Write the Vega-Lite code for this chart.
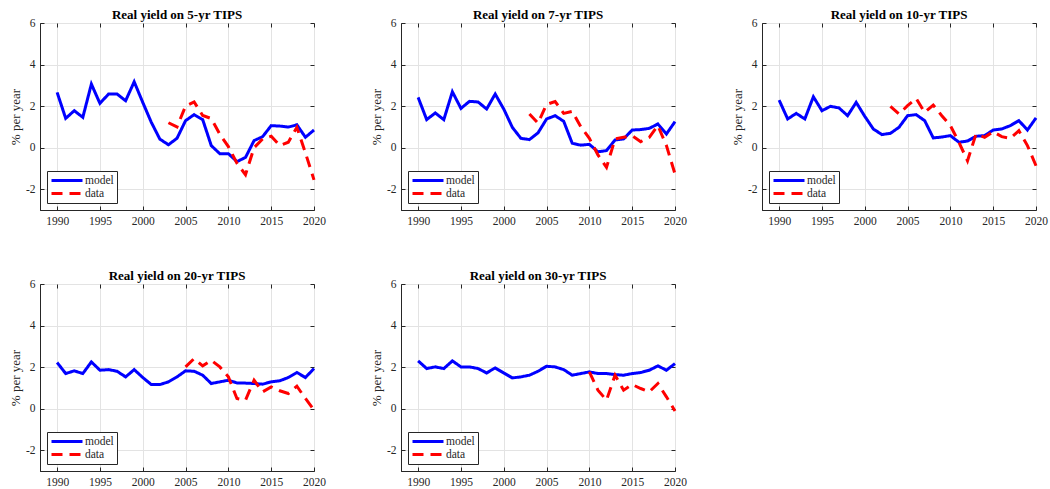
{
  "$schema": "https://vega.github.io/schema/vega-lite/v6.json",
  "background": "white",
  "padding": {"left": 8, "top": 8, "right": 5, "bottom": 5},
  "datasets": {
    "d": [
      {"p":5,"x":1990,"model":2.66},{"p":5,"x":1991,"model":1.41},{"p":5,"x":1992,"model":1.78},{"p":5,"x":1993,"model":1.46},{"p":5,"x":1994,"model":3.06},{"p":5,"x":1995,"model":2.13},{"p":5,"x":1996,"model":2.58},{"p":5,"x":1997,"model":2.58},{"p":5,"x":1998,"model":2.26},{"p":5,"x":1999,"model":3.17},{"p":5,"x":2000,"model":2.18},{"p":5,"x":2001,"model":1.22},{"p":5,"x":2002,"model":0.41},{"p":5,"x":2003,"model":0.14,"data":1.2},{"p":5,"x":2004,"model":0.45,"data":1.0},{"p":5,"x":2005,"model":1.30,"data":2.0},{"p":5,"x":2006,"model":1.59,"data":2.2},{"p":5,"x":2007,"model":1.35,"data":1.55},{"p":5,"x":2008,"model":0.10,"data":1.4},{"p":5,"x":2009,"model":-0.29,"data":0.65},{"p":5,"x":2010,"model":-0.29,"data":0.05},{"p":5,"x":2011,"model":-0.67,"data":-0.75},{"p":5,"x":2012,"model":-0.47,"data":-1.3},{"p":5,"x":2013,"model":0.34,"data":0.0},{"p":5,"x":2014,"model":0.53,"data":0.42},{"p":5,"x":2015,"model":1.06,"data":0.55},{"p":5,"x":2016,"model":1.04,"data":0.1},{"p":5,"x":2017,"model":0.99,"data":0.26},{"p":5,"x":2018,"model":1.10,"data":0.98},{"p":5,"x":2019,"model":0.50,"data":-0.25},{"p":5,"x":2020,"model":0.85,"data":-1.55},
      {"p":7,"x":1990,"model":2.42},{"p":7,"x":1991,"model":1.35},{"p":7,"x":1992,"model":1.67},{"p":7,"x":1993,"model":1.35},{"p":7,"x":1994,"model":2.69},{"p":7,"x":1995,"model":1.89},{"p":7,"x":1996,"model":2.23},{"p":7,"x":1997,"model":2.2},{"p":7,"x":1998,"model":1.86},{"p":7,"x":1999,"model":2.58},{"p":7,"x":2000,"model":1.86},{"p":7,"x":2001,"model":0.98},{"p":7,"x":2002,"model":0.45},{"p":7,"x":2003,"model":0.39,"data":1.62},{"p":7,"x":2004,"model":0.71,"data":1.18},{"p":7,"x":2005,"model":1.38,"data":2.08},{"p":7,"x":2006,"model":1.54,"data":2.22},{"p":7,"x":2007,"model":1.27,"data":1.65},{"p":7,"x":2008,"model":0.21,"data":1.75},{"p":7,"x":2009,"model":0.12,"data":1.0},{"p":7,"x":2010,"model":0.16,"data":0.45},{"p":7,"x":2011,"model":-0.2,"data":-0.35},{"p":7,"x":2012,"model":-0.14,"data":-0.95},{"p":7,"x":2013,"model":0.37,"data":0.42},{"p":7,"x":2014,"model":0.42,"data":0.5},{"p":7,"x":2015,"model":0.85,"data":0.58},{"p":7,"x":2016,"model":0.87,"data":0.29},{"p":7,"x":2017,"model":0.93,"data":0.5},{"p":7,"x":2018,"model":1.14,"data":1.06},{"p":7,"x":2019,"model":0.66,"data":0.1},{"p":7,"x":2020,"model":1.25,"data":-1.27},
      {"p":10,"x":1990,"model":2.29},{"p":10,"x":1991,"model":1.38},{"p":10,"x":1992,"model":1.65},{"p":10,"x":1993,"model":1.38},{"p":10,"x":1994,"model":2.45},{"p":10,"x":1995,"model":1.78},{"p":10,"x":1996,"model":1.99},{"p":10,"x":1997,"model":1.91},{"p":10,"x":1998,"model":1.54},{"p":10,"x":1999,"model":2.18},{"p":10,"x":2000,"model":1.51},{"p":10,"x":2001,"model":0.9},{"p":10,"x":2002,"model":0.63},{"p":10,"x":2003,"model":0.69,"data":1.99},{"p":10,"x":2004,"model":0.98,"data":1.62},{"p":10,"x":2005,"model":1.54,"data":2.02},{"p":10,"x":2006,"model":1.59,"data":2.37},{"p":10,"x":2007,"model":1.3,"data":1.7},{"p":10,"x":2008,"model":0.47,"data":2.05},{"p":10,"x":2009,"model":0.51,"data":1.54},{"p":10,"x":2010,"model":0.58,"data":1.06},{"p":10,"x":2011,"model":0.26,"data":0.26},{"p":10,"x":2012,"model":0.32,"data":-0.63},{"p":10,"x":2013,"model":0.55,"data":0.66},{"p":10,"x":2014,"model":0.58,"data":0.5},{"p":10,"x":2015,"model":0.85,"data":0.77},{"p":10,"x":2016,"model":0.9,"data":0.53},{"p":10,"x":2017,"model":1.06,"data":0.45},{"p":10,"x":2018,"model":1.3,"data":0.82},{"p":10,"x":2019,"model":0.85,"data":0.1},{"p":10,"x":2020,"model":1.43,"data":-0.87},
      {"p":20,"x":1990,"model":2.22},{"p":20,"x":1991,"model":1.69},{"p":20,"x":1992,"model":1.82},{"p":20,"x":1993,"model":1.69},{"p":20,"x":1994,"model":2.25},{"p":20,"x":1995,"model":1.85},{"p":20,"x":1996,"model":1.88},{"p":20,"x":1997,"model":1.8},{"p":20,"x":1998,"model":1.53},{"p":20,"x":1999,"model":1.88},{"p":20,"x":2000,"model":1.5},{"p":20,"x":2001,"model":1.16},{"p":20,"x":2002,"model":1.16},{"p":20,"x":2003,"model":1.29},{"p":20,"x":2004,"model":1.53},{"p":20,"x":2005,"model":1.82,"data":2.01},{"p":20,"x":2006,"model":1.8,"data":2.41},{"p":20,"x":2007,"model":1.61,"data":2.06},{"p":20,"x":2008,"model":1.21,"data":2.33},{"p":20,"x":2009,"model":1.29,"data":2.01},{"p":20,"x":2010,"model":1.37,"data":1.53},{"p":20,"x":2011,"model":1.24,"data":0.49},{"p":20,"x":2012,"model":1.23,"data":0.41},{"p":20,"x":2013,"model":1.21,"data":1.37},{"p":20,"x":2014,"model":1.18,"data":0.81},{"p":20,"x":2015,"model":1.29,"data":1.05},{"p":20,"x":2016,"model":1.34,"data":0.86},{"p":20,"x":2017,"model":1.5,"data":0.73},{"p":20,"x":2018,"model":1.74,"data":1.08},{"p":20,"x":2019,"model":1.5,"data":0.49},{"p":20,"x":2020,"model":1.93,"data":-0.06},
      {"p":30,"x":1990,"model":2.3},{"p":30,"x":1991,"model":1.93},{"p":30,"x":1992,"model":2.01},{"p":30,"x":1993,"model":1.93},{"p":30,"x":1994,"model":2.3},{"p":30,"x":1995,"model":2.01},{"p":30,"x":1996,"model":2.01},{"p":30,"x":1997,"model":1.93},{"p":30,"x":1998,"model":1.72},{"p":30,"x":1999,"model":1.96},{"p":30,"x":2000,"model":1.72},{"p":30,"x":2001,"model":1.48},{"p":30,"x":2002,"model":1.53},{"p":30,"x":2003,"model":1.61},{"p":30,"x":2004,"model":1.8},{"p":30,"x":2005,"model":2.04},{"p":30,"x":2006,"model":2.01},{"p":30,"x":2007,"model":1.88},{"p":30,"x":2008,"model":1.61},{"p":30,"x":2009,"model":1.69},{"p":30,"x":2010,"model":1.77,"data":1.77},{"p":30,"x":2011,"model":1.69,"data":0.89},{"p":30,"x":2012,"model":1.69,"data":0.41},{"p":30,"x":2013,"model":1.64,"data":1.61},{"p":30,"x":2014,"model":1.61,"data":0.89},{"p":30,"x":2015,"model":1.69,"data":1.16},{"p":30,"x":2016,"model":1.74,"data":0.97},{"p":30,"x":2017,"model":1.85,"data":0.81},{"p":30,"x":2018,"model":2.06,"data":1.21},{"p":30,"x":2019,"model":1.85,"data":0.57},{"p":30,"x":2020,"model":2.17,"data":-0.11}
    ]
  },
  "data": {"name": "d"},
  "columns": 3,
  "bounds": "flush",
  "spacing": {"row": 74, "column": 87},
  "resolve": {"scale": {"color": "independent", "strokeDash": "independent"}, "legend": {"color": "independent", "strokeDash": "independent"}},
  "concat": [
    {
      "title": "Real yield on 5-yr TIPS",
      "width": 274, "height": 187,
      "transform": [{"filter": "datum.p == 5"}, {"fold": ["model", "data"], "as": ["s", "v"]}, {"filter": "isValid(datum.v)"}],
      "layer": [
        {"mark": {"type": "line", "strokeWidth": 3},
         "encoding": {
           "x": {"field": "x", "type": "quantitative", "scale": {"domain": [1988, 2020], "nice": false, "zero": false}, "axis": {"orient": "bottom", "title": null, "values": [1990, 1995, 2000, 2005, 2010, 2015, 2020], "format": "d", "labelFlush": false}},
           "y": {"field": "v", "type": "quantitative", "scale": {"domain": [-3, 6], "nice": false}, "axis": {"orient": "left", "title": "% per year", "values": [-2, 0, 2, 4, 6], "labelExpr": "'' + datum.value"}},
           "color": {"field": "s", "type": "nominal", "scale": {"domain": ["model", "data"], "range": ["#0000ff", "#ff0000"]}, "legend": {"title": null}},
           "strokeDash": {"field": "s", "type": "nominal", "scale": {"domain": ["model", "data"], "range": [[1, 0], [11, 7]]}, "legend": {"title": null}}
         }},
        {"mark": {"type": "line", "opacity": 0},
         "encoding": {
           "x": {"field": "x", "type": "quantitative", "axis": {"orient": "top", "title": null, "labels": false, "domain": false, "grid": false, "labelPadding": 0, "values": [1990, 1995, 2000, 2005, 2010, 2015, 2020]}},
           "y": {"field": "v", "type": "quantitative", "axis": {"orient": "right", "title": null, "labels": false, "domain": false, "grid": false, "labelPadding": 0, "values": [-2, 0, 2, 4, 6]}}
         }}
      ],
      "resolve": {"axis": {"x": "independent", "y": "independent"}}
    },
    {
      "title": "Real yield on 7-yr TIPS",
      "width": 274, "height": 187,
      "transform": [{"filter": "datum.p == 7"}, {"fold": ["model", "data"], "as": ["s", "v"]}, {"filter": "isValid(datum.v)"}],
      "layer": [
        {"mark": {"type": "line", "strokeWidth": 3},
         "encoding": {
           "x": {"field": "x", "type": "quantitative", "scale": {"domain": [1988, 2020], "nice": false, "zero": false}, "axis": {"orient": "bottom", "title": null, "values": [1990, 1995, 2000, 2005, 2010, 2015, 2020], "format": "d", "labelFlush": false}},
           "y": {"field": "v", "type": "quantitative", "scale": {"domain": [-3, 6], "nice": false}, "axis": {"orient": "left", "title": "% per year", "values": [-2, 0, 2, 4, 6], "labelExpr": "'' + datum.value"}},
           "color": {"field": "s", "type": "nominal", "scale": {"domain": ["model", "data"], "range": ["#0000ff", "#ff0000"]}, "legend": {"title": null}},
           "strokeDash": {"field": "s", "type": "nominal", "scale": {"domain": ["model", "data"], "range": [[1, 0], [11, 7]]}, "legend": {"title": null}}
         }},
        {"mark": {"type": "line", "opacity": 0},
         "encoding": {
           "x": {"field": "x", "type": "quantitative", "axis": {"orient": "top", "title": null, "labels": false, "domain": false, "grid": false, "labelPadding": 0, "values": [1990, 1995, 2000, 2005, 2010, 2015, 2020]}},
           "y": {"field": "v", "type": "quantitative", "axis": {"orient": "right", "title": null, "labels": false, "domain": false, "grid": false, "labelPadding": 0, "values": [-2, 0, 2, 4, 6]}}
         }}
      ],
      "resolve": {"axis": {"x": "independent", "y": "independent"}}
    },
    {
      "title": "Real yield on 10-yr TIPS",
      "width": 274, "height": 187,
      "transform": [{"filter": "datum.p == 10"}, {"fold": ["model", "data"], "as": ["s", "v"]}, {"filter": "isValid(datum.v)"}],
      "layer": [
        {"mark": {"type": "line", "strokeWidth": 3},
         "encoding": {
           "x": {"field": "x", "type": "quantitative", "scale": {"domain": [1988, 2020], "nice": false, "zero": false}, "axis": {"orient": "bottom", "title": null, "values": [1990, 1995, 2000, 2005, 2010, 2015, 2020], "format": "d", "labelFlush": false}},
           "y": {"field": "v", "type": "quantitative", "scale": {"domain": [-3, 6], "nice": false}, "axis": {"orient": "left", "title": "% per year", "values": [-2, 0, 2, 4, 6], "labelExpr": "'' + datum.value"}},
           "color": {"field": "s", "type": "nominal", "scale": {"domain": ["model", "data"], "range": ["#0000ff", "#ff0000"]}, "legend": {"title": null}},
           "strokeDash": {"field": "s", "type": "nominal", "scale": {"domain": ["model", "data"], "range": [[1, 0], [11, 7]]}, "legend": {"title": null}}
         }},
        {"mark": {"type": "line", "opacity": 0},
         "encoding": {
           "x": {"field": "x", "type": "quantitative", "axis": {"orient": "top", "title": null, "labels": false, "domain": false, "grid": false, "labelPadding": 0, "values": [1990, 1995, 2000, 2005, 2010, 2015, 2020]}},
           "y": {"field": "v", "type": "quantitative", "axis": {"orient": "right", "title": null, "labels": false, "domain": false, "grid": false, "labelPadding": 0, "values": [-2, 0, 2, 4, 6]}}
         }}
      ],
      "resolve": {"axis": {"x": "independent", "y": "independent"}}
    },
    {
      "title": "Real yield on 20-yr TIPS",
      "width": 274, "height": 187,
      "transform": [{"filter": "datum.p == 20"}, {"fold": ["model", "data"], "as": ["s", "v"]}, {"filter": "isValid(datum.v)"}],
      "layer": [
        {"mark": {"type": "line", "strokeWidth": 3},
         "encoding": {
           "x": {"field": "x", "type": "quantitative", "scale": {"domain": [1988, 2020], "nice": false, "zero": false}, "axis": {"orient": "bottom", "title": null, "values": [1990, 1995, 2000, 2005, 2010, 2015, 2020], "format": "d", "labelFlush": false}},
           "y": {"field": "v", "type": "quantitative", "scale": {"domain": [-3, 6], "nice": false}, "axis": {"orient": "left", "title": "% per year", "values": [-2, 0, 2, 4, 6], "labelExpr": "'' + datum.value"}},
           "color": {"field": "s", "type": "nominal", "scale": {"domain": ["model", "data"], "range": ["#0000ff", "#ff0000"]}, "legend": {"title": null}},
           "strokeDash": {"field": "s", "type": "nominal", "scale": {"domain": ["model", "data"], "range": [[1, 0], [11, 7]]}, "legend": {"title": null}}
         }},
        {"mark": {"type": "line", "opacity": 0},
         "encoding": {
           "x": {"field": "x", "type": "quantitative", "axis": {"orient": "top", "title": null, "labels": false, "domain": false, "grid": false, "labelPadding": 0, "values": [1990, 1995, 2000, 2005, 2010, 2015, 2020]}},
           "y": {"field": "v", "type": "quantitative", "axis": {"orient": "right", "title": null, "labels": false, "domain": false, "grid": false, "labelPadding": 0, "values": [-2, 0, 2, 4, 6]}}
         }}
      ],
      "resolve": {"axis": {"x": "independent", "y": "independent"}}
    },
    {
      "title": "Real yield on 30-yr TIPS",
      "width": 274, "height": 187,
      "transform": [{"filter": "datum.p == 30"}, {"fold": ["model", "data"], "as": ["s", "v"]}, {"filter": "isValid(datum.v)"}],
      "layer": [
        {"mark": {"type": "line", "strokeWidth": 3},
         "encoding": {
           "x": {"field": "x", "type": "quantitative", "scale": {"domain": [1988, 2020], "nice": false, "zero": false}, "axis": {"orient": "bottom", "title": null, "values": [1990, 1995, 2000, 2005, 2010, 2015, 2020], "format": "d", "labelFlush": false}},
           "y": {"field": "v", "type": "quantitative", "scale": {"domain": [-3, 6], "nice": false}, "axis": {"orient": "left", "title": "% per year", "values": [-2, 0, 2, 4, 6], "labelExpr": "'' + datum.value"}},
           "color": {"field": "s", "type": "nominal", "scale": {"domain": ["model", "data"], "range": ["#0000ff", "#ff0000"]}, "legend": {"title": null}},
           "strokeDash": {"field": "s", "type": "nominal", "scale": {"domain": ["model", "data"], "range": [[1, 0], [11, 7]]}, "legend": {"title": null}}
         }},
        {"mark": {"type": "line", "opacity": 0},
         "encoding": {
           "x": {"field": "x", "type": "quantitative", "axis": {"orient": "top", "title": null, "labels": false, "domain": false, "grid": false, "labelPadding": 0, "values": [1990, 1995, 2000, 2005, 2010, 2015, 2020]}},
           "y": {"field": "v", "type": "quantitative", "axis": {"orient": "right", "title": null, "labels": false, "domain": false, "grid": false, "labelPadding": 0, "values": [-2, 0, 2, 4, 6]}}
         }}
      ],
      "resolve": {"axis": {"x": "independent", "y": "independent"}}
    }
  ],
  "config": {
    "font": "Liberation Serif",
    "view": {"stroke": "#262626", "strokeWidth": 1},
    "axis": {
      "labelFont": "Liberation Serif", "labelFontSize": 11.5, "labelColor": "#262626",
      "titleFont": "Liberation Serif", "titleFontSize": 13, "titleFontWeight": "normal", "titleColor": "#262626",
      "domainColor": "#262626", "tickColor": "#262626", "tickSize": -4, "labelPadding": 9,
      "gridColor": "#e3e3e3", "gridWidth": 1, "titlePadding": 4
    },
    "axisLeft": {"titlePadding": 3},
    "title": {"font": "Liberation Serif", "fontSize": 13, "fontWeight": "bold", "color": "#000000", "offset": -5},
    "legend": {
      "orient": "bottom-left", "offset": 7, "padding": 3, "strokeColor": "#262626", "fillColor": "white",
      "labelFont": "Liberation Serif", "labelFontSize": 11.5, "labelColor": "#262626", "labelOffset": 22,
      "symbolType": "M-1,0H5.2", "symbolSize": 100, "symbolStrokeWidth": 3, "rowPadding": 0
    }
  }
}
